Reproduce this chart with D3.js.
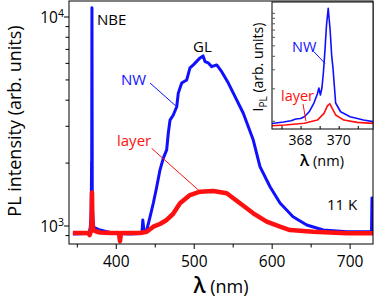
<!DOCTYPE html>
<html>
<head>
<meta charset="utf-8">
<script src="https://cdn.jsdelivr.net/npm/d3@7/dist/d3.min.js"></script>
<style>
body {margin: 0; background: #fff;}
svg {display: block; font-family: "Open Sans", sans-serif;}
</style>
</head>
<body>
<svg width="374" height="299"></svg>
<script>
"use strict";

// PL spectra at 11 K (wavelength in nm, intensity in arb. units)
var nwLambda = [345, 355, 364.4, 366.5, 367.1, 367.5, 367.75, 368.0, 368.2, 368.45, 368.7, 368.88, 368.96, 369.04, 369.12,
	369.2, 369.28, 369.36, 369.45, 369.55, 369.63, 369.7, 369.84, 370.1, 370.6, 371.3, 371.8, 373.4, 379.8, 390, 399,
	418, 431, 433.6, 434.7, 436.2, 439.7, 443.9, 448.2, 452.5, 456.7, 461, 465.3, 467.4, 469.6, 473.8, 478.2, 480.2,
	484.6, 491, 495.2, 499.5, 508.1, 512, 514.5, 518.7, 523.1, 529.5, 535.9, 544.4, 550.8, 563.6, 576.4, 585, 597.9,
	610.7, 627.4, 645, 666.2, 696.3, 726.2, 728.1, 728.7, 729.4, 730];
var nwValue = [911, 913, 915, 944, 975, 1001, 1039, 1050, 1092, 1213, 1462, 1770, 2014, 1734, 2014,
	2831, 4519, 7710, 11000, 6934, 4064, 3085, 1462, 1213, 1092, 1016, 982, 973, 951, 931, 915,
	911, 915, 931, 1062, 941, 951, 1098, 1281, 1528, 1842, 2102, 2299, 2771, 3195, 3379, 3700, 4299,
	4804, 4973, 5674, 5870, 6339, 6480, 6085, 5998, 5757, 5868, 5446, 4804, 4299, 3445, 2563, 1912, 1533,
	1281, 1102, 1006, 952, 934, 934, 936, 1354, 936, 934];

var layerLambda = [345, 364.4, 366.5, 367.2, 368.2, 368.88, 369.23, 369.4, 369.53, 369.66, 369.84, 370.27, 370.97, 371.8,
	373.4, 379.8, 392.6, 404.1, 405.4, 406.7, 431, 439.7, 448.2, 456.7, 465.3, 473.4, 482.4, 495.2, 508.1, 525.1,
	542.3, 559.4, 576.4, 593.6, 610.7, 623.5, 653.4, 696.3, 730];
var layerValue = [921, 921, 900, 915, 948, 1016, 1172, 1370, 1440, 1306, 1133, 1016, 968, 948,
	941, 926, 921, 921, 840, 921, 921, 934, 987, 1017, 1063, 1135, 1277, 1399, 1451, 1462,
	1426, 1277, 1144, 1043, 987, 951, 934, 918, 918];

var xMajor = [400, 500, 600, 700];
var xMinor = [350, 450, 550, 650];
var yMajor = [1000, 10000];
var yMajorLabel = [["10", "3"], ["10", "4"]];
var yMinor = [900, 2000, 3000, 4000, 5000, 6000, 7000, 8000, 9000];
var insetXMajor = [368, 370];
var insetXMinor = [367, 369, 371];
var insetYTicks = [1000, 2000, 3000, 4000, 5000, 6000, 7000, 8000, 9000, 10000];

var svg = d3.select('svg');

var x = d3.scaleLinear().domain([340, 730]).range([69, 373]);
var y = d3.scaleLog().domain([815.6, 11865]).range([244, 1]);
var xi = d3.scaleLinear().domain([366.5, 371.8]).range([272, 373]);
var yi = d3.scaleLog().domain([840, 12600]).range([129, 2]);

var nwData = d3.zip(nwLambda, nwValue);
var layerData = d3.zip(layerLambda, layerValue);

function clip(id, xs, ys) {
	svg.append('clipPath').attr('id', id).append('rect')
		.attr('x', xs.range()[0]).attr('y', ys.range()[1])
		.attr('width', xs.range()[1] - xs.range()[0])
		.attr('height', ys.range()[0] - ys.range()[1]);
}
clip('mainClip', x, y);
clip('insetClip', xi, yi);

function drawLines(g, xs, ys, clipId, wBlue, wRed) {
	var line = d3.line().x(function(d) {return xs(d[0])}).y(function(d) {return ys(d[1])});
	var lg = g.append('g').attr('clip-path', 'url(#' + clipId + ')');
	lg.append('path').datum(nwData)
		.attr('fill', 'none').attr('stroke', '#1010ff').attr('stroke-width', wBlue)
		.attr('stroke-linejoin', 'round').attr('d', line);
	lg.append('path').datum(layerData)
		.attr('fill', 'none').attr('stroke', '#ff1010').attr('stroke-width', wRed)
		.attr('stroke-linejoin', 'round').attr('d', line);
}

function frame(g, xs, ys) {
	g.append('rect')
		.attr('x', xs.range()[0]).attr('y', ys.range()[1])
		.attr('width', xs.range()[1] - xs.range()[0])
		.attr('height', ys.range()[0] - ys.range()[1])
		.attr('fill', 'none').attr('stroke', '#000').attr('stroke-width', 1);
}

function ticks(g, axis, transform) {
	var a = g.append('g').attr('transform', transform).call(axis);
	a.select('.domain').remove();
	a.selectAll('line').attr('stroke', '#000');
	return a;
}

// main plot
var main = svg.append('g');
drawLines(main, x, y, 'mainClip', 3, 4.5);
frame(main, x, y);

ticks(main, d3.axisBottom(x).tickValues(xMajor).tickSize(5).tickFormat(d3.format('d')), 'translate(0,244)')
	.selectAll('text').attr('font-size', 15.5).attr('fill', '#000').attr('font-family', 'Open Sans').attr('dy', '0.95em');
ticks(main, d3.axisBottom(x).tickValues(xMinor).tickSize(3.5).tickFormat(''), 'translate(0,244)');
ticks(main, d3.axisLeft(y).tickValues(yMajor).tickSize(5).tickFormat(''), 'translate(69,0)');
ticks(main, d3.axisLeft(y).tickValues(yMinor).tickSize(3.5).tickFormat(''), 'translate(69,0)');

var yl = main.selectAll('text.ylab').data(yMajor).enter().append('text')
	.attr('class', 'ylab')
	.attr('x', 64)
	.attr('y', function(d) {return y(d) + 6})
	.attr('text-anchor', 'end')
	.attr('font-size', 15.5);
yl.append('tspan').text(function(d, i) {return yMajorLabel[i][0]});
yl.append('tspan').attr('dy', -6).attr('font-size', 10.5).text(function(d, i) {return yMajorLabel[i][1]});

main.append('text')
	.attr('transform', 'translate(21,121) rotate(-90)')
	.attr('text-anchor', 'middle').attr('font-size', 18)
	.text('PL intensity (arb. units)');

var xt = main.append('text').attr('x', 221).attr('y', 293).attr('text-anchor', 'middle').attr('font-size', 18);
xt.append('tspan').attr('font-size', 21).attr('font-weight', 600).text('λ');
xt.append('tspan').text(' (nm)');

main.append('text').attr('x', 97).attr('y', 25).attr('font-size', 15).text('NBE');
main.append('text').attr('x', 193).attr('y', 52).attr('font-size', 15).text('GL');
main.append('text').attr('x', 327).attr('y', 210).attr('font-size', 15).text('11 K');
main.append('text').attr('x', 121).attr('y', 85).attr('font-size', 15).attr('fill', '#1010ff').text('NW');
main.append('text').attr('x', 117).attr('y', 146).attr('font-size', 15).attr('fill', '#ff1010').text('layer');

// leader lines, anchored in data units
main.append('line')
	.attr('x1', x(443.9)).attr('y1', y(4808)).attr('x2', x(478.2)).attr('y2', y(3700))
	.attr('stroke', '#1010ff').attr('stroke-width', 1);
main.append('line')
	.attr('x1', x(446.1)).attr('y1', y(2339)).attr('x2', x(505.9)).attr('y2', y(1479))
	.attr('stroke', '#ff1010').attr('stroke-width', 1);

// inset
var inset = svg.append('g');
inset.append('rect')
	.attr('x', xi.range()[0]).attr('y', yi.range()[1])
	.attr('width', xi.range()[1] - xi.range()[0])
	.attr('height', yi.range()[0] - yi.range()[1])
	.attr('fill', '#fff');
drawLines(inset, xi, yi, 'insetClip', 1.6, 1.6);
frame(inset, xi, yi);

ticks(inset, d3.axisTop(xi).tickValues(insetXMajor.concat(insetXMinor)).tickSize(3).tickFormat(''), 'translate(0,129)');
ticks(inset, d3.axisRight(yi).tickValues(insetYTicks).tickSize(3).tickFormat(''), 'translate(272,0)')
	.selectAll('line').attr('stroke', '#555');

inset.selectAll('text.ixlab').data(insetXMajor).enter().append('text')
	.attr('class', 'ixlab')
	.attr('x', function(d) {return xi(d)})
	.attr('y', 145)
	.attr('text-anchor', 'middle')
	.attr('font-size', 14)
	.text(function(d) {return d});

var ixt = inset.append('text').attr('x', 322).attr('y', 166).attr('text-anchor', 'middle').attr('font-size', 14.5);
ixt.append('tspan').attr('font-size', 16).attr('font-weight', 600).text('λ');
ixt.append('tspan').text(' (nm)');

var iyt = inset.append('text')
	.attr('transform', 'translate(263,67) rotate(-90)')
	.attr('text-anchor', 'middle').attr('font-size', 14);
iyt.append('tspan').text('I');
iyt.append('tspan').attr('dy', 4).attr('font-size', 10).text('PL');
iyt.append('tspan').attr('dy', -4).text(' (arb. units)');

inset.append('text').attr('x', 292).attr('y', 52).attr('font-size', 14.5).attr('fill', '#1010ff').text('NW');
inset.append('text').attr('x', 281).attr('y', 101).attr('font-size', 14.5).attr('fill', '#ff1010').text('layer');
inset.append('line')
	.attr('x1', xi(368.7)).attr('y1', yi(4365)).attr('x2', xi(369.28)).attr('y2', yi(3404))
	.attr('stroke', '#1010ff').attr('stroke-width', 1);
inset.append('line')
	.attr('x1', xi(368.13)).attr('y1', yi(1430)).attr('x2', xi(368.28)).attr('y2', yi(995))
	.attr('stroke', '#ff1010').attr('stroke-width', 1);
</script>
</body>
</html>
